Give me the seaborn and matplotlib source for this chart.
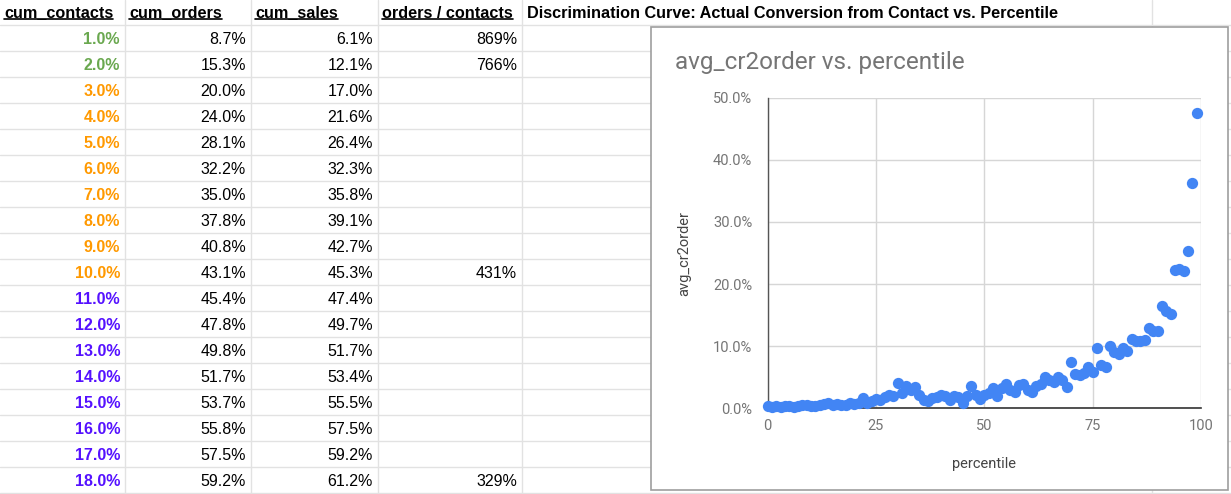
import numpy as np
import pandas as pd
import matplotlib
matplotlib.use("Agg")
import matplotlib.pyplot as plt
import seaborn as sns
from matplotlib.patches import Rectangle
from matplotlib.ticker import FuncFormatter

# 表格数据
headers = ["cum_contacts", "cum_orders", "cum_sales", "orders / contacts"]
cum_contacts = [1.0, 2.0, 3.0, 4.0, 5.0, 6.0, 7.0, 8.0, 9.0,
                10.0, 11.0, 12.0, 13.0, 14.0, 15.0, 16.0, 17.0, 18.0]
cum_orders = [8.7, 15.3, 20.0, 24.0, 28.1, 32.2, 35.0, 37.8, 40.8,
              43.1, 45.4, 47.8, 49.8, 51.7, 53.7, 55.8, 57.5, 59.2]
cum_sales = [6.1, 12.1, 17.0, 21.6, 26.4, 32.3, 35.8, 39.1, 42.7,
             45.3, 47.4, 49.7, 51.7, 53.4, 55.5, 57.5, 59.2, 61.2]
orders_per_contacts = [869, 766, None, None, None, None, None, None, None,
                       431, None, None, None, None, None, None, None, 329]
contact_groups = ["top2"] * 2 + ["top10"] * 8 + ["rest"] * 8
sheet_title = "Discrimination Curve: Actual Conversion from Contact vs. Percentile"

# 散点图数据
percentile = list(range(100))
avg_cr2order = [0.4, 0.2, 0.3, 0.2, 0.3, 0.4, 0.2, 0.3, 0.6, 0.5,
                0.4, 0.3, 0.5, 0.7, 0.8, 0.6, 0.7, 0.6, 0.5, 0.8,
                0.7, 0.9, 1.6, 0.8, 1.2, 1.5, 1.3, 1.8, 2.1, 2.0,
                4.1, 2.4, 3.6, 2.9, 3.5, 2.1, 1.4, 1.2, 1.6, 1.8,
                2.1, 1.9, 1.4, 1.9, 1.8, 0.9, 2.0, 3.6, 2.1, 1.5,
                2.2, 2.4, 3.3, 1.9, 3.2, 3.9, 2.9, 2.6, 3.7, 3.9,
                3.0, 2.6, 3.6, 3.9, 5.1, 4.5, 4.3, 5.1, 4.6, 3.5,
                7.4, 5.5, 5.3, 5.7, 6.6, 5.8, 9.7, 7.0, 6.6, 10.0,
                9.0, 8.8, 9.7, 9.3, 11.2, 10.8, 10.8, 11.0, 13.0, 12.4,
                12.5, 16.4, 15.6, 15.1, 22.2, 22.5, 22.1, 25.4, 36.2, 47.6]

group_colors = {"top2": "#6aa84f", "top10": "#ff9900", "rest": "#5511ff"}

sns.set_style("white")
plt.rcParams['font.family'] = ['Liberation Sans', 'DejaVu Sans']

W, H = 1231, 494
fig = plt.figure(figsize=(W / 100, H / 100), dpi=100)

# 表格画布（像素坐标）
ax = fig.add_axes([0, 0, 1, 1])
ax.set_xlim(0, W)
ax.set_ylim(H, 0)
ax.axis("off")

row_h = 26
top = 25
col_edges = [0, 125, 251, 378, 522]
grid_c = "#e2e2e2"

for k in range(len(cum_contacts) + 1):
    ax.axhline(top + k * row_h, color=grid_c, lw=1, zorder=1)
for xe in col_edges[1:] + [1152]:
    ax.axvline(xe, color=grid_c, lw=1, zorder=1)

header_texts = []
for j, h in enumerate(headers):
    t = ax.text(col_edges[j] + 4, 13, h, fontsize=11.7, fontweight="bold",
                ha="left", va="center", color="black", zorder=3)
    header_texts.append(t)
ax.text(527, 13, sheet_title, fontsize=11.7, fontweight="bold",
        ha="left", va="center", color="black", zorder=3)

for i in range(len(cum_contacts)):
    yc = top + i * row_h + row_h / 2 + 1
    ax.text(col_edges[1] - 5, yc, f"{cum_contacts[i]:.1f}%", fontsize=11.5,
            fontweight="bold", ha="right", va="center",
            color=group_colors[contact_groups[i]], zorder=3)
    ax.text(col_edges[2] - 5, yc, f"{cum_orders[i]:.1f}%", fontsize=11.5,
            ha="right", va="center", color="black", zorder=3)
    ax.text(col_edges[3] - 5, yc, f"{cum_sales[i]:.1f}%", fontsize=11.5,
            ha="right", va="center", color="black", zorder=3)
    if orders_per_contacts[i] is not None:
        ax.text(col_edges[4] - 5, yc, f"{orders_per_contacts[i]}%", fontsize=11.5,
                ha="right", va="center", color="black", zorder=3)

# 图表外框
ax.add_patch(Rectangle((651, 27), 577, 463, facecolor="white",
                       edgecolor="#9e9e9e", lw=1.2, zorder=4))
ax.text(675, 62, "avg_cr2order vs. percentile", fontsize=17.5, color="#757575",
        ha="left", va="center", family=["Roboto", "DejaVu Sans"], zorder=5)

# 散点图
x0, x1 = 767.5, 1201
y0, y1 = 408.3, 97.7
cax = fig.add_axes([x0 / W, (H - y0) / H, (x1 - x0) / W, (y0 - y1) / H], zorder=6)
cax.patch.set_alpha(0)

df = pd.DataFrame({"percentile": percentile,
                   "avg_cr2order": np.array(avg_cr2order) / 100})
sns.scatterplot(data=df, x="percentile", y="avg_cr2order", ax=cax,
                color="#4285f4", s=66, linewidth=0, alpha=1, clip_on=False, zorder=5)

cax.set_xlim(0, 100)
cax.set_ylim(0, 0.5)
cax.set_xticks([0, 25, 50, 75, 100])
cax.set_yticks([0, 0.1, 0.2, 0.3, 0.4, 0.5])
cax.yaxis.set_major_formatter(FuncFormatter(lambda v, p: f"{v * 100:.1f}%"))
cax.grid(True, color="#d6d6d6", lw=1)
cax.set_axisbelow(True)
for s in ["top", "right"]:
    cax.spines[s].set_visible(False)
cax.spines["left"].set_color("#555555")
cax.spines["bottom"].set_color("#333333")
cax.spines["left"].set_linewidth(1)
cax.spines["bottom"].set_linewidth(1.2)
cax.tick_params(axis="y", length=8, color="#d6d6d6", pad=3, labelsize=10.5,
                labelcolor="#757575")
cax.tick_params(axis="x", length=0, pad=8, labelsize=10.5, labelcolor="#757575")
for lab in cax.get_xticklabels() + cax.get_yticklabels():
    lab.set_family(["Roboto", "DejaVu Sans"])
cax.set_xlabel("percentile", fontsize=10.5, color="#444444",
               family=["Roboto", "DejaVu Sans"], labelpad=17)
cax.set_ylabel("avg_cr2order", fontsize=10.5, color="#444444",
               family=["Roboto", "DejaVu Sans"], labelpad=16)

# 表头下划线
fig.canvas.draw()
renderer = fig.canvas.get_renderer()
inv = ax.transData.inverted()
for t in header_texts:
    bb = t.get_window_extent(renderer)
    (xa, _), (xb, _) = inv.transform([[bb.x0, bb.y0], [bb.x1, bb.y0]])
    ax.plot([xa, xb], [19, 19], color="black", lw=1.2, zorder=3)

fig.savefig("out.png", dpi=100)
